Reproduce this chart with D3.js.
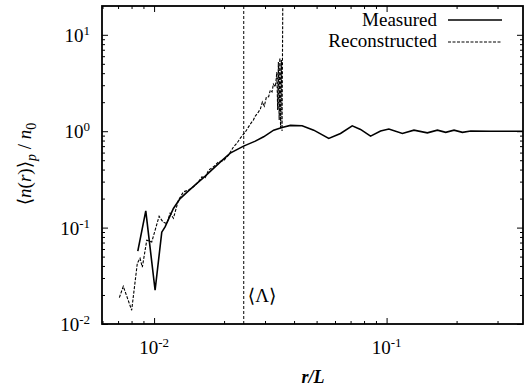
<!DOCTYPE html>
<html>
<head>
    <title>Density profile</title>
    <script src="https://d3js.org/d3.v7.min.js"></script>
    <style>
        body { margin: 0; background: #fff; }
        text { font-family: "Liberation Serif", "DejaVu Serif", serif; }
        .tick line { stroke: #000; stroke-width: 1; }
        .domain { display: none; }
    </style>
</head>
<body>
    <div id="chart"></div>
    <script>
        // measured profile (r/L, <n>/n0)
        const measuredR = [0.00851, 0.00921, 0.0101, 0.01079, 0.01115, 0.01211, 0.01294, 0.01402, 0.01528,
            0.01659, 0.01801, 0.01945, 0.02126, 0.02426, 0.02725, 0.02959, 0.03268, 0.03551, 0.03857,
            0.04331, 0.0486, 0.0564, 0.06336, 0.07115, 0.07727, 0.08532, 0.09421, 0.1023, 0.1169,
            0.1311, 0.1497, 0.1654, 0.1796, 0.195, 0.212, 0.2301, 0.2807, 0.3857];
        const measuredV = [0.0569, 0.149, 0.0224, 0.0896, 0.1017, 0.158, 0.2, 0.239, 0.287,
            0.342, 0.411, 0.489, 0.592, 0.7, 0.789, 0.875, 1.026, 1.095, 1.148,
            1.138, 1.026, 0.842, 0.948, 1.138, 1.044, 0.889, 1.003, 1.052, 0.948,
            1.026, 0.962, 1.026, 0.972, 1.026, 0.972, 1.003, 1.0, 1.0];

        // reconstructed profile
        const reconR = [0.00709, 0.00737, 0.00801, 0.00847, 0.0087, 0.0089, 0.0093, 0.00977, 0.01051,
            0.01093, 0.01134, 0.01172, 0.01211, 0.01273, 0.01338, 0.01405, 0.01477, 0.01552, 0.01605,
            0.01659, 0.01714, 0.01801, 0.01893, 0.0199, 0.02091, 0.02197, 0.02273, 0.02349, 0.02467,
            0.02593, 0.02672, 0.02725, 0.02808, 0.02864, 0.02922, 0.0298, 0.0304, 0.0311, 0.03162,
            0.03216, 0.03258, 0.03324, 0.03373, 0.034, 0.03424, 0.03451, 0.03475, 0.03499, 0.03527,
            0.03551, 0.0358];
        const reconV = [0.0188, 0.0246, 0.0139, 0.0427, 0.0481, 0.0388, 0.074, 0.071, 0.131,
            0.114, 0.11, 0.141, 0.125, 0.193, 0.235, 0.245, 0.265, 0.298, 0.336,
            0.33, 0.394, 0.427, 0.481, 0.495, 0.565, 0.689, 0.752, 0.848, 0.979,
            1.185, 1.304, 1.435, 1.578, 1.697, 2.005, 1.823, 2.26, 2.28, 2.67,
            2.56, 3.08, 2.89, 4.11, 1.656, 5.22, 1.304, 5.74, 1.077, 5.47,
            1.003, 30];

        const lambdaR = 0.0243;
        const xMajor = [0.01, 0.1];
        const xMinor = [0.006, 0.007, 0.008, 0.009, 0.02, 0.03, 0.04, 0.05, 0.06, 0.07, 0.08, 0.09, 0.2, 0.3];
        const yMajor = [0.01, 0.1, 1, 10];
        const yMinor = [0.02, 0.03, 0.04, 0.05, 0.06, 0.07, 0.08, 0.09, 0.2, 0.3, 0.4, 0.5, 0.6, 0.7, 0.8, 0.9,
            2, 3, 4, 5, 6, 7, 8, 9, 20];
        const xLabels = [["10", "-2", 0.01], ["10", "-1", 0.1]];
        const yLabels = [["10", "-2", 0.01], ["10", "-1", 0.1], ["10", "0", 1], ["10", "1", 10]];

        const width = 532, height = 392;
        const mLeft = 102, mRight = 523, mTop = 6, mBottom = 324;
        const serif = "'Liberation Serif', 'DejaVu Serif', serif";

        const x = d3.scaleLog().domain([0.00597, 0.3857 * 1.001]).range([mLeft, mRight]);
        const y = d3.scaleLog().domain([0.01, 19.9]).range([mBottom, mTop]);

        const svg = d3.select("#chart").append("svg")
            .attr("width", width).attr("height", height)
            .attr("font-family", serif);

        svg.append("clipPath").attr("id", "clip")
            .append("rect").attr("x", mLeft).attr("y", mTop)
            .attr("width", mRight - mLeft).attr("height", mBottom - mTop);

        // ticks on all four sides, pointing inward
        const addAxis = (axis, tx, ty) => svg.append("g")
            .attr("transform", `translate(${tx},${ty})`).call(axis);
        const xMinorIn = xMinor.filter(v => x(v) > mLeft);
        const yMinorIn = yMinor.filter(v => y(v) > mTop);
        addAxis(d3.axisBottom(x).tickValues(xMajor).tickSize(-6).tickFormat(""), 0, mBottom);
        addAxis(d3.axisBottom(x).tickValues(xMinorIn).tickSize(-3).tickFormat(""), 0, mBottom);
        addAxis(d3.axisTop(x).tickValues(xMajor).tickSize(-6).tickFormat(""), 0, mTop);
        addAxis(d3.axisTop(x).tickValues(xMinorIn).tickSize(-3).tickFormat(""), 0, mTop);
        addAxis(d3.axisLeft(y).tickValues(yMajor).tickSize(-6).tickFormat(""), mLeft, 0);
        addAxis(d3.axisLeft(y).tickValues(yMinorIn).tickSize(-3).tickFormat(""), mLeft, 0);
        addAxis(d3.axisRight(y).tickValues(yMajor).tickSize(-6).tickFormat(""), mRight, 0);
        addAxis(d3.axisRight(y).tickValues(yMinorIn).tickSize(-3).tickFormat(""), mRight, 0);

        // tick labels
        xLabels.forEach(([b, e, v]) => {
            const t = svg.append("text").attr("x", x(v)).attr("y", 354)
                .attr("text-anchor", "middle").attr("font-size", 19);
            t.append("tspan").text(b);
            t.append("tspan").attr("dy", -7).attr("font-size", 13).text(e);
        });
        yLabels.forEach(([b, e, v]) => {
            const t = svg.append("text").attr("x", 90).attr("y", y(v) + 7)
                .attr("text-anchor", "end").attr("font-size", 19);
            t.append("tspan").text(b);
            t.append("tspan").attr("dy", -7).attr("font-size", 13).text(e);
        });

        // axis titles
        svg.append("text").attr("x", 313).attr("y", 383).attr("text-anchor", "middle")
            .attr("font-size", 18).attr("font-style", "italic").attr("font-weight", "bold").text("r/L");

        const yt = svg.append("text").attr("transform", "translate(31,164) rotate(-90)")
            .attr("text-anchor", "middle").attr("font-size", 19);
        yt.append("tspan").text("\u27E8");
        yt.append("tspan").attr("font-style", "italic").text("n");
        yt.append("tspan").text("(");
        yt.append("tspan").attr("font-style", "italic").text("r");
        yt.append("tspan").text(")\u27E9");
        yt.append("tspan").attr("dy", 5).attr("font-size", 14).attr("font-style", "italic").text("p");
        yt.append("tspan").attr("dy", -5).text(" / ");
        yt.append("tspan").attr("font-style", "italic").text("n");
        yt.append("tspan").attr("dy", 5).attr("font-size", 14).text("0");

        const plot = svg.append("g").attr("clip-path", "url(#clip)");

        // vertical marker at <Lambda>
        plot.append("line")
            .attr("x1", x(lambdaR)).attr("x2", x(lambdaR))
            .attr("y1", mTop).attr("y2", mBottom)
            .attr("stroke", "#000").attr("stroke-width", 1).attr("stroke-dasharray", "3,2");
        svg.append("text").attr("x", x(lambdaR) + 4).attr("y", 302)
            .attr("font-size", 19).text("\u27E8\u039B\u27E9");

        const line = d3.line().x(d => x(d[0])).y(d => y(d[1]));

        plot.append("path")
            .datum(measuredR.map((r, i) => [r, measuredV[i]]))
            .attr("d", line).attr("fill", "none")
            .attr("stroke", "#000").attr("stroke-width", 1.6);

        plot.append("path")
            .datum(reconR.map((r, i) => [r, reconV[i]]))
            .attr("d", line).attr("fill", "none")
            .attr("stroke", "#000").attr("stroke-width", 1.1).attr("stroke-dasharray", "3,1.5");

        // legend
        svg.append("text").attr("x", 437).attr("y", 26).attr("text-anchor", "end")
            .attr("font-size", 19).text("Measured");
        svg.append("line").attr("x1", 448).attr("x2", 502).attr("y1", 20).attr("y2", 20)
            .attr("stroke", "#000").attr("stroke-width", 1.6);
        svg.append("text").attr("x", 437).attr("y", 47).attr("text-anchor", "end")
            .attr("font-size", 19).text("Reconstructed");
        svg.append("line").attr("x1", 448).attr("x2", 502).attr("y1", 42).attr("y2", 42)
            .attr("stroke", "#000").attr("stroke-width", 1.1).attr("stroke-dasharray", "3,1.5");

        // frame
        svg.append("rect").attr("x", mLeft).attr("y", mTop)
            .attr("width", mRight - mLeft).attr("height", mBottom - mTop)
            .attr("fill", "none").attr("stroke", "#000").attr("stroke-width", 1.8);
    </script>
</body>
</html>
